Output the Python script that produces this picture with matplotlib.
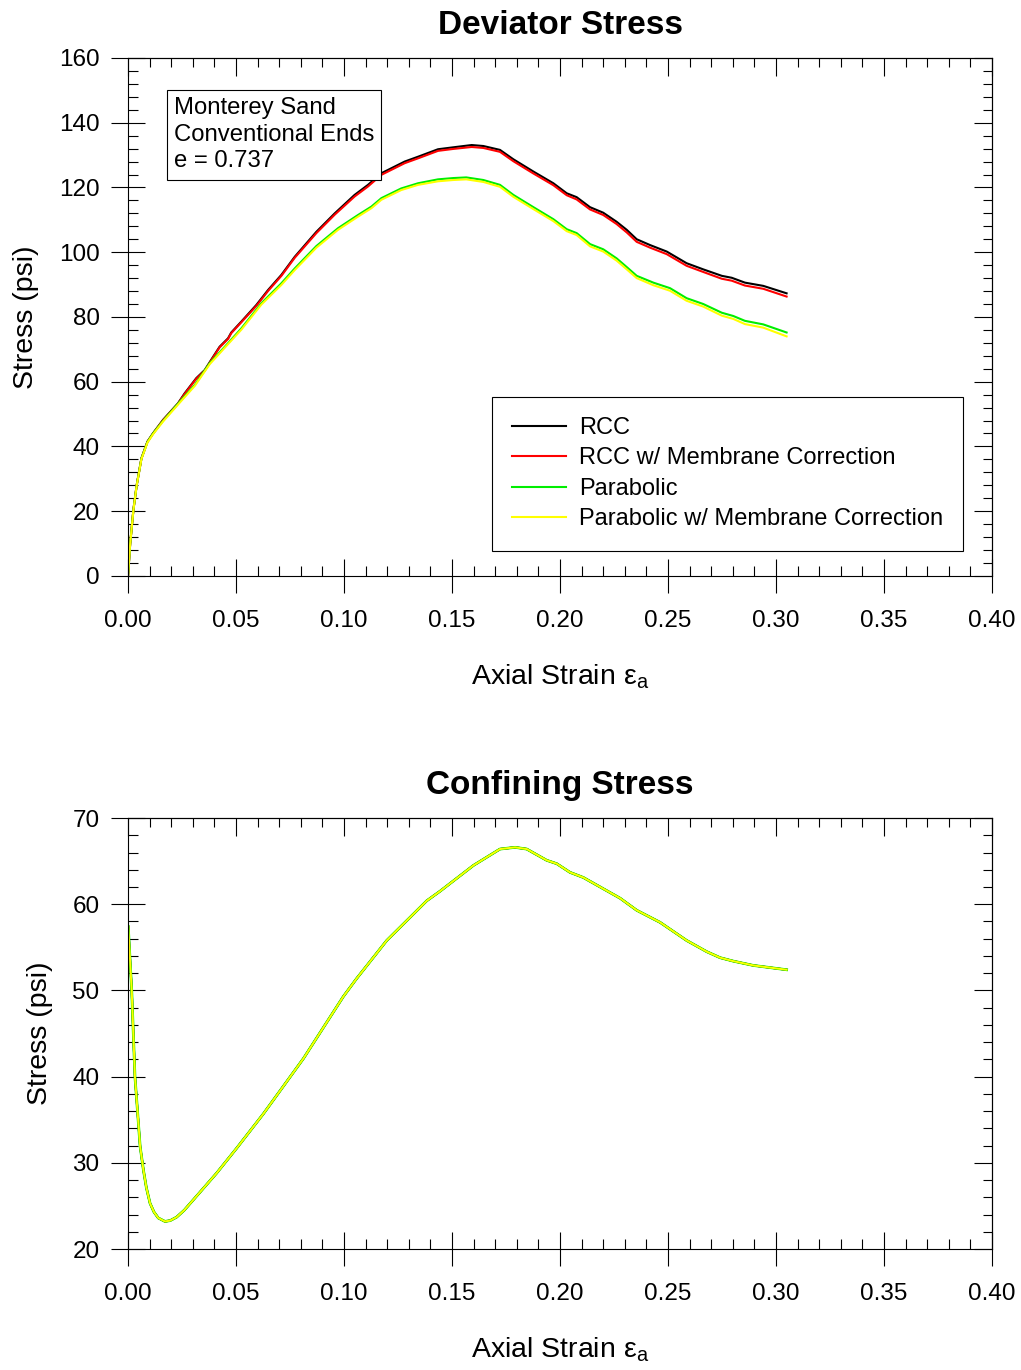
import matplotlib
matplotlib.use("Agg")
import matplotlib.pyplot as plt
from matplotlib.ticker import MultipleLocator

plt.rcParams['font.family'] = ['Liberation Sans', 'DejaVu Sans']
plt.rcParams['mathtext.fontset'] = 'custom'
plt.rcParams['mathtext.rm'] = 'Liberation Sans'
plt.rcParams['mathtext.it'] = 'Liberation Sans'

# deviator stress, RCC method
strain_rcc = [0, 0.001, 0.0025, 0.004, 0.0062, 0.009, 0.0116, 0.0162, 0.0231, 0.0262,
              0.0316, 0.0355, 0.0394, 0.0424, 0.0463, 0.0478, 0.0525, 0.0594, 0.0648, 0.071,
              0.0772, 0.0872, 0.0957, 0.1049, 0.1111, 0.1173, 0.1281, 0.1343, 0.1435, 0.1506,
              0.1591, 0.1645, 0.1722, 0.1784, 0.1877, 0.1969, 0.2031, 0.2077, 0.2139, 0.22,
              0.2262, 0.2309, 0.2355, 0.2417, 0.2494, 0.2586, 0.2663, 0.2749, 0.2795, 0.2856,
              0.2941, 0.3049]
dev_rcc = [0, 10, 20.5, 28, 36.3, 41.5, 44.1, 48.2, 53.3, 56.4,
           61.1, 63.6, 67.7, 70.8, 73.4, 75.2, 78.6, 83.7, 88.3, 93.0,
           98.6, 106.3, 112.0, 117.7, 120.8, 124.4, 128.0, 129.5, 131.8, 132.4,
           133.1, 132.8, 131.6, 128.7, 124.9, 121.3, 118.2, 117.0, 113.9, 112.2,
           109.4, 106.9, 104.0, 102.2, 100.2, 96.6, 94.7, 92.7, 92.1, 90.6,
           89.6, 87.3]
dev_rcc_mem = [0, 10, 20.5, 28, 36.3, 41.5, 44.0, 48.1, 53.2, 56.2,
               60.9, 63.4, 67.5, 70.6, 73.2, 75.0, 78.4, 83.4, 88.0, 92.7,
               98.3, 105.9, 111.6, 117.2, 120.3, 123.9, 127.5, 129.0, 131.3, 131.9,
               132.5, 132.2, 131.0, 128.1, 124.3, 120.7, 117.6, 116.3, 113.2, 111.5,
               108.7, 106.1, 103.2, 101.4, 99.4, 95.8, 93.9, 91.8, 91.2, 89.7,
               88.7, 86.3]

# deviator stress, parabolic method
strain_par = [0, 0.001, 0.0025, 0.004, 0.0062, 0.009, 0.0116, 0.0162, 0.0247, 0.0309,
              0.0378, 0.0463, 0.0525, 0.0617, 0.071, 0.0772, 0.0872, 0.0972, 0.1065, 0.1127,
              0.1173, 0.1265, 0.1343, 0.1435, 0.1506, 0.1566, 0.1645, 0.1722, 0.1784, 0.1877,
              0.1969, 0.2031, 0.2077, 0.2139, 0.22, 0.2262, 0.2309, 0.2355, 0.2432, 0.2509,
              0.2586, 0.2663, 0.2749, 0.2802, 0.2856, 0.2941, 0.3049]
dev_par = [0, 10, 20.5, 28, 36.3, 41.4, 44.0, 47.9, 54.4, 59.0,
           65.7, 71.9, 76.5, 84.2, 90.4, 95.0, 101.9, 107.4, 111.5, 114.1,
           116.7, 119.7, 121.3, 122.5, 122.9, 123.1, 122.3, 120.8, 117.7, 113.9,
           110.2, 107.1, 105.9, 102.5, 100.9, 98.1, 95.4, 92.7, 90.6, 88.9,
           85.8, 84.0, 81.3, 80.3, 78.8, 77.7, 75.2]
dev_par_mem = [0, 10, 20.4, 27.9, 36.1, 41.2, 43.8, 47.7, 54.1, 58.7,
               65.4, 71.6, 76.1, 83.8, 89.9, 94.5, 101.4, 106.9, 111.0, 113.6,
               116.2, 119.2, 120.8, 121.9, 122.3, 122.5, 121.7, 120.2, 117.1, 113.3,
               109.6, 106.5, 105.3, 101.8, 100.2, 97.4, 94.7, 92.0, 89.8, 88.1,
               85.0, 83.2, 80.4, 79.4, 77.8, 76.7, 74.0]

# confining stress (all methods overlap)
strain_conf = [0.0001, 0.0017, 0.0032, 0.0056, 0.0071, 0.0085, 0.0102, 0.012, 0.014, 0.0171,
               0.0195, 0.0225, 0.026, 0.0302, 0.041, 0.0503, 0.0627, 0.0812, 0.0997, 0.1059,
               0.1198, 0.1383, 0.1444, 0.1599, 0.1722, 0.1792, 0.1846, 0.1938, 0.1985, 0.2046,
               0.2108, 0.2278, 0.2355, 0.2463, 0.2586, 0.2679, 0.2741, 0.2802, 0.2895, 0.3049]
conf = [57.4, 50.0, 40.0, 31.9, 29.2, 27.1, 25.3, 24.3, 23.6, 23.2,
        23.3, 23.7, 24.5, 25.7, 28.8, 31.7, 35.7, 42.1, 49.3, 51.4,
        55.8, 60.4, 61.5, 64.5, 66.4, 66.6, 66.4, 65.1, 64.7, 63.7,
        63.1, 60.7, 59.3, 57.9, 55.8, 54.5, 53.8, 53.4, 52.9, 52.4]

x_ticks = [0.0, 0.05, 0.10, 0.15, 0.20, 0.25, 0.30, 0.35, 0.40]
labels = ['RCC', 'RCC w/ Membrane Correction', 'Parabolic', 'Parabolic w/ Membrane Correction']


def style_axes(ax, ylim, ymajor, yminor):
    ax.set_xlim(0, 0.40)
    ax.set_ylim(*ylim)
    ax.set_xticks(x_ticks)
    ax.set_xticklabels(['%.2f' % t for t in x_ticks])
    ax.xaxis.set_minor_locator(MultipleLocator(0.01))
    ax.yaxis.set_major_locator(MultipleLocator(ymajor))
    ax.yaxis.set_minor_locator(MultipleLocator(yminor))
    ax.tick_params(which='major', direction='inout', length=25, width=0.8,
                   labelsize=17.5, pad=8)
    ax.tick_params(axis='x', which='major', pad=12)
    ax.tick_params(which='minor', direction='in', length=7, width=0.8)
    for s in ax.spines.values():
        s.set_linewidth(0.8)
    # inward ticks on top and right
    top = ax.secondary_xaxis('top')
    top.set_xticks(x_ticks)
    top.xaxis.set_minor_locator(MultipleLocator(0.01))
    top.tick_params(which='major', direction='in', length=13, width=0.8, labeltop=False)
    top.tick_params(which='minor', direction='in', length=6.5, width=0.8)
    right = ax.secondary_yaxis('right')
    right.yaxis.set_major_locator(MultipleLocator(ymajor))
    right.yaxis.set_minor_locator(MultipleLocator(yminor))
    right.tick_params(which='major', direction='in', length=13, width=0.8, labelright=False)
    right.tick_params(which='minor', direction='in', length=6.5, width=0.8)
    ax.set_xlabel('Axial Strain ε$_\\mathrm{a}$', fontsize=20.5, labelpad=22)
    ax.set_ylabel('Stress (psi)', fontsize=20.5, labelpad=14)


fig = plt.figure(figsize=(10.21, 13.70), dpi=100)

ax1 = fig.add_axes([0.1254, 0.5796, 0.8462, 0.3781])
ax1.plot(strain_rcc, dev_rcc, color='black', lw=1.5, label=labels[0])
ax1.plot(strain_rcc, dev_rcc_mem, color='red', lw=1.5, label=labels[1])
ax1.plot(strain_par, dev_par, color='#00ee00', lw=1.5, label=labels[2])
ax1.plot(strain_par, dev_par_mem, color='yellow', lw=1.5, label=labels[3])
style_axes(ax1, (0, 160), 20, 4)
ax1.set_title('Deviator Stress', fontsize=24, fontweight='bold', pad=17)
ax1.text(0.053, 0.924, 'Monterey Sand\nConventional Ends\ne = 0.737', transform=ax1.transAxes,
         fontsize=17.2, va='top', ha='left', linespacing=1.27,
         bbox=dict(boxstyle='square,pad=0.3', fc='white', ec='black', lw=0.8))
leg = ax1.legend(loc='upper left', bbox_to_anchor=(0.421, 0.3456), fontsize=17,
                 frameon=True, fancybox=False, framealpha=1, edgecolor='black',
                 borderpad=0.85, labelspacing=0.36, handlelength=2.3, handletextpad=0.55,
                 borderaxespad=0)
leg.get_frame().set_linewidth(0.8)

ax2 = fig.add_axes([0.1254, 0.0883, 0.8462, 0.3146])
ax2.plot(strain_conf, conf, color='black', lw=1.5)
ax2.plot(strain_conf, conf, color='red', lw=1.5)
ax2.plot(strain_conf, conf, color='#00ee00', lw=2.0)
ax2.plot(strain_conf, conf, color='yellow', lw=1.4)
style_axes(ax2, (20, 70), 10, 2)
ax2.set_title('Confining Stress', fontsize=24, fontweight='bold', pad=17)

fig.savefig('out.png', dpi=100)
